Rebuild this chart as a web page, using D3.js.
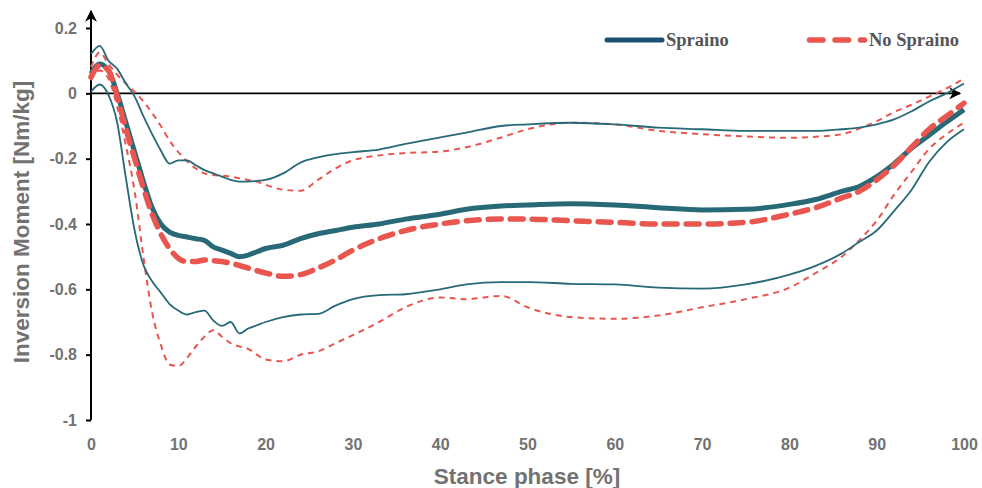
<!DOCTYPE html>
<html>
<head>
<meta charset="utf-8">
<script src="https://cdn.jsdelivr.net/npm/d3@7"></script>
<style>
  body { margin: 0; background: #fff; }
  svg { display: block; }
  .tick text { font-family: "Liberation Sans", Arial, sans-serif; font-weight: bold; fill: #727272; }
</style>
</head>
<body>
<svg id="chart" width="982" height="488"></svg>
<script>
// stance phase samples (%)
var stance = [0,1,2,3,4,5,6,7,8,9,10,11,12,13,14,15,16,17,18,19,20,22,24,26,28,30,33,36,40,43,47,50,55,60,65,70,75,80,83,86,88,90,92,94,96,98,100];

var sprainMean = [0.06,0.09,0.07,0.0,-0.09,-0.18,-0.27,-0.35,-0.40,-0.425,-0.435,-0.44,-0.445,-0.45,-0.47,-0.48,-0.49,-0.50,-0.495,-0.485,-0.475,-0.465,-0.445,-0.43,-0.42,-0.41,-0.40,-0.385,-0.37,-0.355,-0.345,-0.342,-0.338,-0.342,-0.35,-0.357,-0.355,-0.34,-0.325,-0.30,-0.285,-0.255,-0.215,-0.168,-0.128,-0.088,-0.05];
var sprainHi   = [0.12,0.145,0.10,0.075,0.03,-0.01,-0.07,-0.125,-0.175,-0.215,-0.205,-0.205,-0.22,-0.235,-0.245,-0.255,-0.265,-0.27,-0.27,-0.268,-0.265,-0.245,-0.212,-0.196,-0.186,-0.18,-0.172,-0.155,-0.135,-0.12,-0.10,-0.095,-0.09,-0.095,-0.105,-0.11,-0.115,-0.115,-0.115,-0.11,-0.105,-0.095,-0.08,-0.055,-0.025,0.0,0.03];
var sprainLo   = [0.005,0.027,-0.005,-0.09,-0.26,-0.42,-0.525,-0.575,-0.61,-0.645,-0.665,-0.677,-0.67,-0.665,-0.695,-0.712,-0.70,-0.735,-0.72,-0.71,-0.70,-0.685,-0.677,-0.675,-0.65,-0.63,-0.618,-0.615,-0.60,-0.585,-0.578,-0.578,-0.583,-0.585,-0.595,-0.598,-0.585,-0.555,-0.528,-0.49,-0.455,-0.42,-0.36,-0.295,-0.21,-0.15,-0.11];

var noMean = [0.05,0.085,0.07,-0.01,-0.11,-0.20,-0.29,-0.37,-0.43,-0.475,-0.505,-0.515,-0.515,-0.51,-0.512,-0.515,-0.52,-0.527,-0.535,-0.543,-0.55,-0.56,-0.555,-0.535,-0.51,-0.48,-0.445,-0.42,-0.40,-0.39,-0.385,-0.385,-0.39,-0.395,-0.40,-0.40,-0.395,-0.37,-0.35,-0.32,-0.30,-0.265,-0.22,-0.165,-0.11,-0.07,-0.03];
var noHi   = [0.08,0.125,0.09,0.057,0.03,0.005,-0.025,-0.06,-0.10,-0.145,-0.18,-0.208,-0.23,-0.245,-0.25,-0.252,-0.255,-0.26,-0.265,-0.27,-0.28,-0.295,-0.298,-0.265,-0.23,-0.205,-0.19,-0.183,-0.178,-0.165,-0.135,-0.11,-0.09,-0.095,-0.115,-0.125,-0.132,-0.136,-0.133,-0.125,-0.108,-0.085,-0.057,-0.035,-0.01,0.015,0.045];
var noLo   = [0.04,0.07,0.045,-0.04,-0.16,-0.30,-0.50,-0.67,-0.77,-0.83,-0.835,-0.81,-0.775,-0.745,-0.725,-0.745,-0.765,-0.775,-0.782,-0.80,-0.815,-0.82,-0.80,-0.79,-0.765,-0.74,-0.70,-0.655,-0.625,-0.63,-0.62,-0.655,-0.685,-0.69,-0.68,-0.655,-0.63,-0.595,-0.55,-0.50,-0.45,-0.39,-0.31,-0.24,-0.17,-0.125,-0.09];

var yTicks = [0.2,0,-0.2,-0.4,-0.6,-0.8,-1];
var xTicks = [0,10,20,30,40,50,60,70,80,90,100];
var legendLabels = ["Spraino", "No Spraino"];

var teal = "#276977",
    tealDark = "#1d4f70",
    red = "#e8564f";

var svg = d3.select("#chart");

var x = d3.scaleLinear().domain([0, 100]).range([91, 964]);
var y = d3.scaleLinear().domain([-1, 0.2]).range([420, 28]);

var defs = svg.append("defs");
defs.append("marker")
    .attr("id", "arrow")
    .attr("viewBox", "0 0 10 10")
    .attr("refX", 9).attr("refY", 5)
    .attr("markerWidth", 12).attr("markerHeight", 12)
    .attr("markerUnits", "userSpaceOnUse")
    .attr("orient", "auto")
  .append("path")
    .attr("d", "M0,0L10,5L0,10L3,5Z")
    .attr("fill", "#000");

// y axis ticks and labels
var yAxis = svg.append("g")
    .attr("transform", "translate(" + x(0) + ",0)")
    .call(d3.axisLeft(y)
      .tickValues(yTicks)
      .tickSize(5)
      .tickPadding(9)
      .tickFormat(function (d) { return String(+d.toFixed(1)); }));
yAxis.select(".domain").remove();
yAxis.selectAll(".tick line").attr("stroke", "#000").attr("stroke-width", 2);
yAxis.selectAll(".tick text").style("font-size", "16px");

// x labels (no tick marks)
var xAxis = svg.append("g")
    .attr("transform", "translate(0,433)")
    .call(d3.axisBottom(x).tickValues(xTicks).tickSize(0).tickPadding(6));
xAxis.select(".domain").remove();
xAxis.selectAll(".tick text").style("font-size", "16px");

// axis lines with arrows
svg.append("line")
    .attr("x1", x(0)).attr("x2", x(0))
    .attr("y1", y(-1)).attr("y2", 11)
    .attr("stroke", "#000").attr("stroke-width", 2)
    .attr("marker-end", "url(#arrow)");
svg.append("line")
    .attr("x1", x(0)).attr("x2", 960)
    .attr("y1", y(0)).attr("y2", y(0))
    .attr("stroke", "#000").attr("stroke-width", 1.8)
    .attr("marker-end", "url(#arrow)");

// curves
var line = d3.line()
    .x(function (d) { return x(d[0]); })
    .y(function (d) { return y(d[1]); })
    .curve(d3.curveMonotoneX);

function pairs(values) {
  return stance.map(function (s, i) { return [s, values[i]]; });
}

var series = [
  { values: noHi,       color: red,  width: 2,   dash: "6,5" },
  { values: noLo,       color: red,  width: 2,   dash: "6,5" },
  { values: sprainHi,   color: teal, width: 1.8, dash: null },
  { values: sprainLo,   color: teal, width: 1.8, dash: null },
  { values: sprainMean, color: teal, width: 5,   dash: null },
  { values: noMean,     color: red,  width: 5.5, dash: "13,9", cap: "round" }
];

svg.append("g").selectAll("path")
    .data(series)
    .enter()
    .append("path")
    .attr("d", function (d) { return line(pairs(d.values)); })
    .attr("fill", "none")
    .attr("stroke", function (d) { return d.color; })
    .attr("stroke-width", function (d) { return d.width; })
    .attr("stroke-dasharray", function (d) { return d.dash; })
    .attr("stroke-linecap", function (d) { return d.cap || "butt"; })
    .attr("stroke-linejoin", "round");

// legend
var legend = svg.append("g");
legend.append("line")
    .attr("x1", 607).attr("x2", 662).attr("y1", 40).attr("y2", 40)
    .attr("stroke", tealDark).attr("stroke-width", 5)
    .attr("stroke-linecap", "round");
legend.append("line")
    .attr("x1", 809.5).attr("x2", 864.5).attr("y1", 40).attr("y2", 40)
    .attr("stroke", red).attr("stroke-width", 5.5)
    .attr("stroke-dasharray", "13.5,12")
    .attr("stroke-linecap", "round");
legend.selectAll("text")
    .data(legendLabels)
    .enter()
    .append("text")
    .attr("x", function (d, i) { return i ? 869 : 666; })
    .attr("y", 46)
    .attr("font-family", "'Liberation Serif', 'Times New Roman', serif")
    .attr("font-weight", "bold")
    .attr("font-size", 18.5)
    .attr("fill", "#555")
    .text(function (d) { return d; });

// axis titles
svg.append("text")
    .attr("transform", "translate(29,222) rotate(-90)")
    .attr("text-anchor", "middle")
    .attr("font-family", "'Liberation Sans', Arial, sans-serif")
    .attr("font-weight", "bold")
    .attr("font-size", 22.5)
    .attr("fill", "#727272")
    .text("Inversion Moment [Nm/kg]");
svg.append("text")
    .attr("x", 527).attr("y", 484)
    .attr("text-anchor", "middle")
    .attr("font-family", "'Liberation Sans', Arial, sans-serif")
    .attr("font-weight", "bold")
    .attr("font-size", 22.5)
    .attr("fill", "#727272")
    .text("Stance phase [%]");
</script>
</body>
</html>
